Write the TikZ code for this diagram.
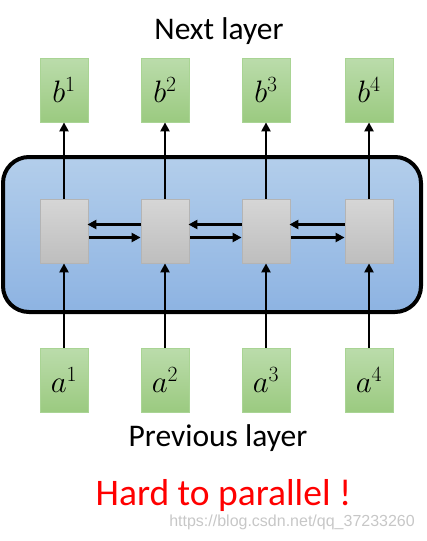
\RequirePackage{fix-cm}
\documentclass[tikz,border=0pt]{standalone}
\usepackage{fontspec}
\setmainfont{Carlito}
\newfontfamily\wmfont{Liberation Sans}
\usetikzlibrary{arrows.meta}
\definecolor{bluetop}{HTML}{B3CEEB}
\definecolor{bluebot}{HTML}{8DB3E2}
\definecolor{greentop}{HTML}{BBDCAB}
\definecolor{greenbot}{HTML}{9BCA80}
\definecolor{greenline}{HTML}{A9D494}
\definecolor{graytop}{HTML}{D6D6D6}
\definecolor{graybot}{HTML}{BEBEBE}
\definecolor{grayline}{HTML}{B4B4B4}
\tikzset{
  inbox/.style={draw=greenline, line width=0.8pt, top color=greentop, bottom color=greenbot,
    minimum width=48pt, minimum height=64pt, inner sep=0pt,
    font=\fontsize{31}{33}\selectfont},
  cell/.style={draw=grayline, line width=0.8pt, top color=graytop, bottom color=graybot,
    minimum width=48pt, minimum height=64pt, inner sep=0pt},
  conn/.style={line width=2.4pt, -{Triangle[length=9pt,width=9pt]}},
  lbl/.style={font=\fontsize{31.5}{34}\selectfont, inner sep=0pt}
}
\begin{document}
\begin{tikzpicture}[x=1pt,y=-1pt]
\useasboundingbox (0,0) rectangle (426,541);
% big rounded box
\node[draw=black, line width=4pt, rounded corners=26pt, top color=bluetop, bottom color=bluebot,
  minimum width=418pt, minimum height=155pt, inner sep=0pt] (layer) at (212,234.5) {};
% cells
\foreach \i/\x in {1/64,2/165,3/266,4/369}{
  \node[cell] (c\i) at (\x,231) {};
  \node[inbox] (b\i) at (\x,90) {$b^{\i}$};
  \node[inbox] (a\i) at (\x,380) {$a^{\i}$};
  \draw[conn] (a\i.north) -- (c\i.south);
  \draw[conn] (c\i.north) -- (b\i.south);
}
% horizontal arrows
\foreach \p/\q in {1/2,2/3,3/4}{
  \draw[conn] ([yshift=6.5pt]c\q.west) -- ([xshift=-1pt,yshift=6.5pt]c\p.east);
  \draw[conn] ([xshift=1pt,yshift=-6.5pt]c\p.east) -- ([yshift=-6.5pt]c\q.west);
}
\node[lbl] (next) at (219,31) {Next layer};
\node[lbl] (prev) at (218,438) {Previous layer};
\node[font=\fontsize{37.5}{40}\selectfont, text=red, inner sep=0pt] (hard) at (223.5,495) {Hard to parallel !};
\node[font=\wmfont\fontsize{16}{18}\selectfont, text=black!22, inner sep=0pt, anchor=east] (wm) at (415,522) {https://blog.csdn.net/qq\_37233260};
\end{tikzpicture}
\end{document}
